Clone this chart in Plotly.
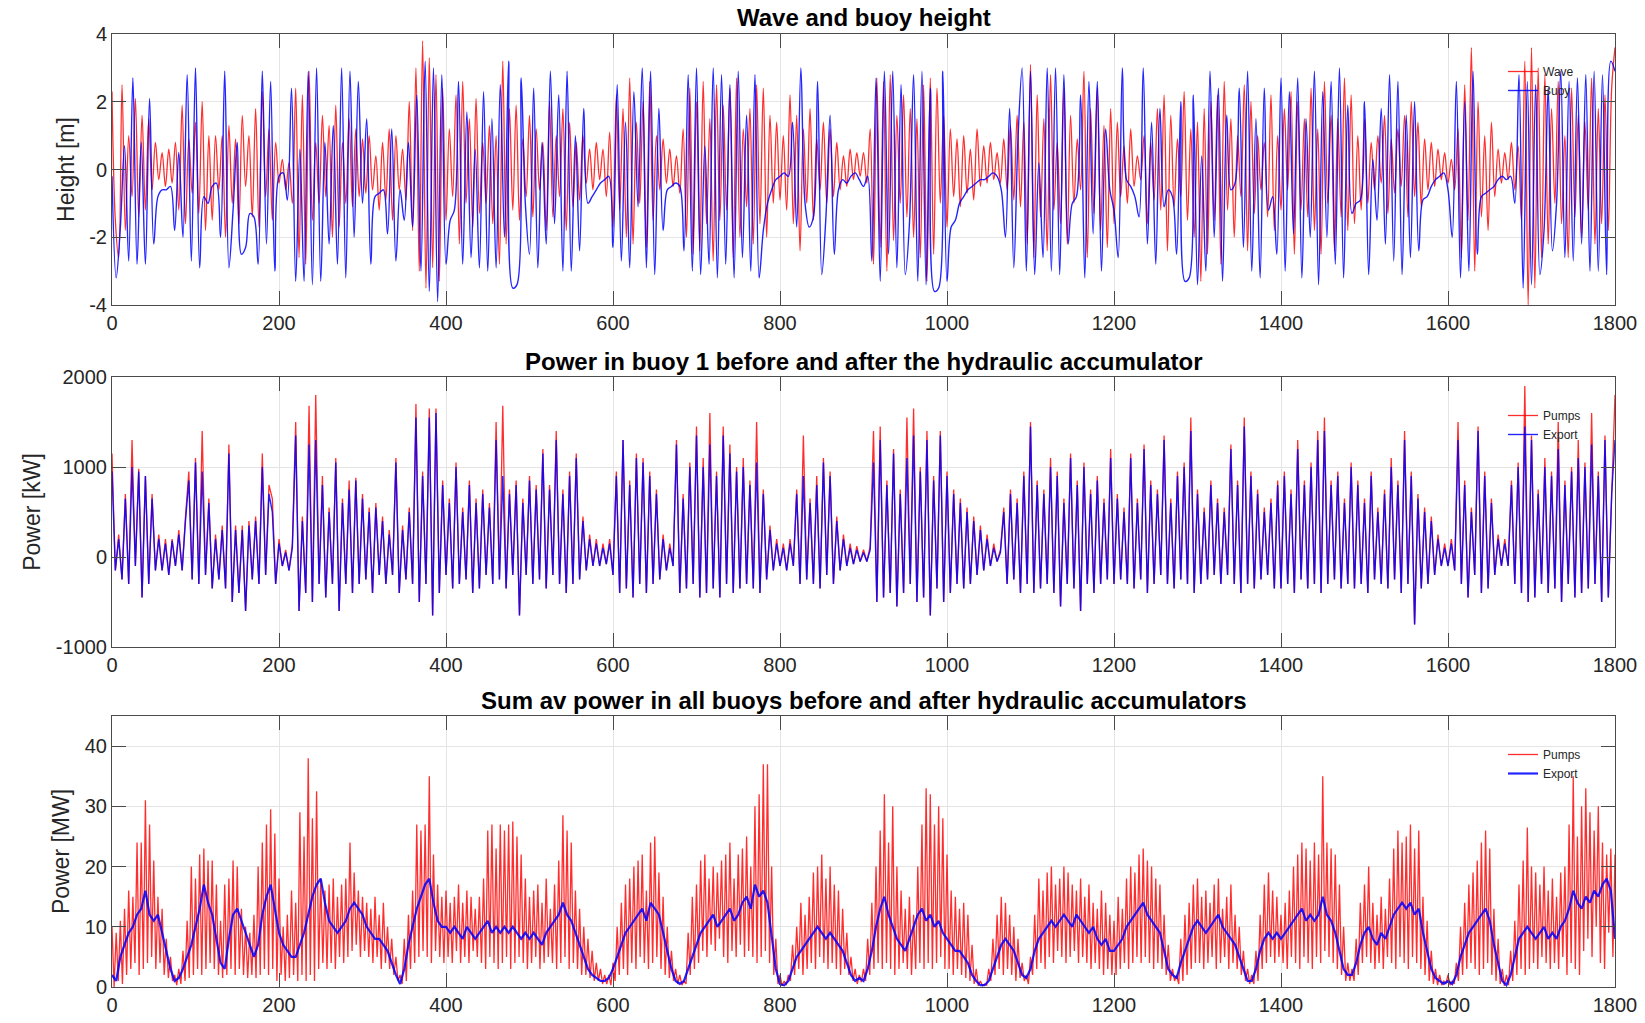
import plotly.graph_objects as go

# ---------------- data ----------------
# Panel 1: wave elevation [m], sampled every 4 s
wave_step = 4
wave_height = [
    2.3, -1.5, -2.6, 2.5, -1.8, 1.0, -0.8, 2.1, -1.4, 1.6, -1.2, 1.5, -0.6, 0.8, -0.3, 0.5, -0.5, 0.6, -0.4, 0.8, -1.2, 1.9, -1.6, 0.9, -0.7,
    1.4, -1.3, 2.0, -1.8, 1.0, -1.5, 1.0, -0.6, 1.0, -2.0, 1.3, -1.0, 0.9, -1.6, 1.6, -0.5, 1.0, -1.4, 1.8, -1.7, 2.3, -0.8, 1.2, -1.5, 0.8,
    -0.4, 0.3, -0.6, 0.2, -1.0, 2.4, -2.6, 2.2, -2.8, 2.9, -1.5, 0.8, -1.0, 1.6, -0.8, 1.3, -2.0, 1.9, -1.7, 0.8, -1.0, 1.5, -1.1, 1.2, -0.8,
    0.9, -0.7, 1.0, -0.6, 0.4, -1.2, 0.8, -0.9, 1.2, -1.5, 1.0, -0.6, 0.6, -0.9, 2.0, -1.8, 3.0, -3.0, 3.8, -3.5, 3.3, -2.9, 2.8, -3.3, 2.4,
    -1.5, 1.2, -0.8, 2.2, -2.2, 2.6, -1.0, 1.5, -1.7, 2.1, -1.3, 0.8, -1.0, 1.3, -1.6, 1.0, -2.8, 3.2, -2.2, 1.8, -1.2, 1.9, -1.5, 0.9, -0.8,
    1.6, -1.4, 1.2, -0.6, 0.8, -1.8, 2.0, -1.4, 1.0, -0.8, 1.8, -1.8, 1.4, -1.1, 0.8, -0.9, 1.0, -0.4, 0.6, -0.6, 0.8, -0.3, 0.6, -0.8, 1.1,
    -1.7, 2.2, -1.2, 1.8, -2.0, 2.7, -2.2, 1.4, -1.0, 2.0, -2.3, 2.6, -1.5, 1.0, -0.6, 0.9, -0.4, 0.6, -0.5, 0.4, -0.7, 1.2, -2.0, 2.4, -2.5,
    2.0, -2.4, 2.6, -1.6, 1.5, -2.7, 2.5, -1.5, 1.9, -1.2, 2.4, -2.6, 2.7, -2.0, 1.2, -1.1, 1.8, -2.2, 2.5, -1.6, 2.4, -2.0, 1.6, -1.0, 1.4,
    -0.9, 1.0, -1.2, 2.2, -1.6, 1.6, -2.4, 1.2, -1.0, 1.8, -1.5, 0.9, -0.6, 1.4, -1.0, 1.2, -0.8, 0.8, -0.6, 0.4, -0.5, 0.6, -0.3, 0.5, -0.2,
    0.5, -0.4, 1.2, -2.8, 2.7, -2.3, 2.6, -3.0, 2.8, -2.1, 1.6, -1.0, 2.2, -1.4, 1.8, -2.0, 1.5, -2.6, 2.5, -3.3, 2.7, -2.5, 2.4, -1.0, 1.6,
    -1.7, 1.2, -0.8, 0.9, -1.1, 1.0, -0.7, 0.6, -0.9, 1.2, -0.5, 0.7, -0.4, 0.8, -0.3, 0.5, -0.4, 0.9, -0.6, 1.3, -0.9, 1.6, -1.1, 1.4, -2.2,
    3.1, -2.6, 2.2, -1.4, 1.5, -2.4, 2.8, -1.2, 0.8, -1.6, 2.4, -2.2, 1.6, -1.0, 0.9, -0.6, 2.9, -2.6, 1.8, -1.3, 2.4, -1.8, 1.3, -2.3, 1.8,
    -1.6, 1.4, -0.8, 0.7, -1.0, 1.2, -0.5, 0.4, -0.3, 1.0, -1.6, 0.8, -0.9, 1.8, -1.2, 2.2, -2.4, 1.6, -1.1, 0.9, -0.8, 2.3, -1.5, 1.2, -2.0,
    1.4, -3.3, 1.8, -2.5, 2.0, -1.5, 2.2, -2.8, 2.6, -1.2, 1.5, -2.0, 1.0, -0.8, 2.5, -2.4, 2.0, -1.3, 1.0, -0.6, 0.8, -1.4, 2.2, -1.8, 1.0,
    -1.2, 1.8, -0.6, 2.3, -2.5, 2.0, -1.2, 1.5, -1.4, 2.4, -1.8, 1.2, -2.5, 2.6, -1.0, 1.6, -2.4, 1.5, -1.4, 2.7, -1.8, 2.2, -1.6, 1.0, -1.2,
    1.5, -1.0, 0.8, -0.6, 1.0, -0.4, 1.6, -1.3, 0.9, -0.7, 1.2, -0.5, 1.6, -1.4, 2.0, -0.8, 1.4, -1.1, 0.9, -0.6, 0.8, -0.5, 0.6, -0.3, 0.5,
    -0.4, 0.3, -0.6, 1.2, -2.6, 2.5, -1.5, 3.6, -3.0, 2.0, -1.4, 1.0, -1.8, 1.4, -0.8, 0.6, -0.4, 0.5, -0.3, 0.8, -0.6, 0.7, -1.5, 3.2, -4.0,
    3.6, -3.5, 3.0, -2.6, 2.8, -2.2, 1.8, -1.0, 2.6, -1.6, 1.0, -2.6, 2.4, -1.4, 1.6, -2.0, 1.4, -1.2, 2.7, -2.2, 1.8, -1.6, 2.2, -1.8, 2.4,
    3.6,
]

# Panel 1: buoy heave [m], sampled every 5 s
buoy_step = 5
buoy_height = [
    -0.2, -3.2, -1.7, 0.7, -2.7, 2.7, -2.8, 0.8, -2.8, 2.1, -2.2, -0.8, -0.6, -0.6, -0.5, -1.8, 0.5, -2.0, 2.8, -2.7,
    3.0, -2.9, -0.8, -1.0, -0.5, -0.4, -2.0, 2.9, -2.9, -1.2, 0.8, -2.5, -2.3, -1.3, -1.4, -2.8, 2.9, -2.2, 2.6, -3.0,
    -0.2, -0.1, -0.9, 2.4, -3.3, 0.6, -3.3, 2.9, -3.4, 3.0, -3.3, 0.8, -2.2, 1.3, -2.8, 3.0, -3.2, 2.9, -2.0, 2.6,
    -1.0, 1.5, -2.8, -0.8, -0.7, -0.6, -1.9, 1.2, -2.7, -0.6, -1.5, 0.8, -1.7, 2.2, -3.0, 3.2, -3.6, 3.0, -3.9, 2.8,
    -2.8, -1.5, -1.2, 2.6, -2.8, 1.7, -2.6, 0.6, -2.9, 2.3, -3.0, 1.5, -2.9, 2.5, -2.0, 3.2, -3.5, -3.4, 2.7, -1.0,
    -2.5, 2.4, -2.9, 0.8, -2.2, 2.9, -1.6, 2.2, -3.0, 2.9, -3.0, 1.0, -2.4, 1.8, -1.0, -0.8, -0.6, -0.4, -0.3, -0.2,
    -2.3, 2.5, -2.7, 1.4, -2.9, 2.3, -1.1, 3.0, -2.9, 2.9, -3.1, 1.8, -1.8, -0.6, -0.5, -0.4, -0.5, -2.4, 2.8, -3.0,
    3.0, -3.1, 0.7, -2.8, 3.0, -3.2, 2.8, -2.8, 2.5, -3.2, 2.9, -2.6, 1.6, -3.0, 2.8, -3.2, -1.8, -1.0, -0.6, -0.3,
    -0.2, -0.1, -0.2, 1.4, -1.7, 3.0, -1.0, -1.7, -1.4, 2.6, -3.1, -1.4, 1.6, -2.5, -0.6, -0.3, -0.4, -0.2, -0.1, -0.3,
    -0.5, -0.2, -2.7, 2.7, -3.3, 2.9, -2.5, 2.9, -2.9, 2.5, -3.1, -1.6, 2.8, -3.3, 2.9, -3.4, 2.4, -3.6, -3.5, 2.9,
    -3.3, -1.7, -1.5, -1.0, -0.8, -0.6, -0.5, -0.4, -0.3, -0.3, -0.2, -0.1, -0.2, -0.6, -2.0, 1.8, -2.9, 0.9, 3.0, -3.0,
    2.9, -3.1, 0.2, -2.6, 3.0, -3.0, 3.0, -3.1, 2.8, -2.2, -1.0, -0.8, 2.2, -3.2, 2.6, -1.9, 2.6, -3.0, 1.2, -0.6,
    -1.2, -2.6, 3.0, -0.3, -0.5, -0.8, -1.4, 3.0, -2.2, 1.4, -2.8, 1.8, -1.1, -0.6, -0.8, -2.5, 2.0, -3.3, -3.2, 2.2,
    -3.4, 0.4, -3.0, 2.9, -2.0, 2.4, -3.3, 1.6, -0.6, -0.4, 2.4, -2.3, 2.9, -3.0, 1.5, -3.2, 2.4, -1.2, -0.8, -2.5,
    2.7, -3.0, 2.3, -1.9, 2.7, -3.2, 1.5, -2.0, 2.9, -3.4, 2.3, -2.0, 2.6, -2.8, 3.0, -3.2, 1.9, -1.3, -1.0, -0.9,
    2.0, -3.1, 0.3, -1.5, 1.8, -2.2, 2.8, -2.7, 2.6, -3.1, 1.6, -2.6, 2.0, -2.4, -0.9, -0.8, -0.5, -0.3, -0.2, -0.1,
    -0.6, -2.0, 2.6, -3.2, 2.0, -3.0, 2.9, -2.5, -0.8, -0.7, -0.6, -0.5, -0.3, -0.2, -0.3, -0.2, -1.0, 2.8, -3.5, 2.6,
    -3.4, 2.5, -3.1, -1.8, 2.4, -2.4, -1.0, 2.9, -2.6, 2.6, -2.7, 2.7, -2.2, 2.8, -3.0, 2.9, -3.0, 2.8, -3.1, 3.2,
    2.9,
]

# Panel 2: buoy 1 power [kW], sampled every 4 s
buoy1_step = 4
buoy1_pumps_kw = [
    1150, -150, 250, -250, 700, -300, 1300, -100, 980, -450, 900, -300, 700, -150, 250, -150, 200, -200, 200, -100, 300, -150, 450, 950, -250,
    1100, -300, 1400, -200, 650, -350, 250, -250, 350, -350, 1250, -500, 350, -400, 350, -600, 400, -250, 450, -300, 1150, -200, 800, 650, -300,
    200, -100, 80, -150, 150, 1500, -600, 450, -400, 1680, -500, 1800, -300, 900, -450, 550, -300, 1100, -600, 650, -300, 850, -400, 880, -300,
    700, -250, 550, -400, 600, -200, 450, -300, 300, -200, 1100, -400, 350, -250, 550, -300, 1700, -500, 950, -300, 1650, -650, 1650, -400, 850,
    -200, 650, -350, 1050, -300, 550, -250, 850, -400, 650, -350, 750, -200, 600, -300, 1500, -250, 1680, -350, 750, -200, 850, -650, 650, -200,
    900, -300, 800, -250, 1200, -350, 800, -200, 1400, -300, 750, -400, 950, -300, 1150, -250, 450, -150, 250, -100, 200, -100, 150, -80, 200,
    -200, 950, -400, 1300, -350, 850, -450, 1150, -300, 1100, -400, 950, -300, 750, -250, 250, -150, 150, -100, 1300, -400, 700, -350, 1050, -300,
    1450, -450, 1100, -400, 1600, -350, 950, -450, 1450, -300, 1250, -400, 1000, -350, 1100, -300, 850, -350, 1500, -400, 750, -250, 350, -150, 200,
    -100, 150, -150, 200, -100, 750, -300, 1350, -250, 650, -300, 900, -350, 1100, -200, 950, -300, 450, -150, 250, -100, 150, -80, 120, -50,
    80, -50, 120, 1400, -500, 1450, -450, 850, -400, 1200, -550, 750, -400, 1550, -300, 1650, -500, 1000, -450, 1400, -650, 900, -350, 1400, -500,
    950, -400, 750, -300, 650, -350, 550, -300, 450, -200, 350, -150, 250, -100, 150, -50, 80, 550, -300, 750, -250, 650, -400, 950, -300,
    1500, -400, 850, -350, 750, -300, 1100, -400, 950, -550, 650, -300, 1150, -350, 850, -600, 1050, -300, 750, -400, 900, -300, 650, -250, 1200,
    -300, 700, -250, 550, -300, 1150, -350, 650, -250, 1250, -400, 850, -300, 750, -200, 1350, -300, 650, -350, 950, -250, 1050, -300, 1550, -400,
    750, -300, 550, -250, 850, -200, 650, -300, 550, -200, 1250, -300, 850, -400, 1550, -300, 950, -350, 750, -250, 550, -200, 650, -350, 850,
    -350, 950, -300, 750, -400, 1300, -250, 850, -350, 1050, -300, 1400, -400, 1550, -300, 850, -250, 950, -350, 650, -300, 1050, -350, 850, -300,
    650, -400, 950, -250, 550, -300, 750, -350, 1100, -250, 850, -400, 1400, -300, 950, -750, 700, -350, 550, -300, 450, -200, 250, -100, 150,
    -100, 200, -150, 1500, -300, 850, -450, 550, -200, 1450, -400, 950, -350, 650, -200, 250, -100, 200, -100, 850, -300, 1050, -400, 1900, -500,
    1350, -450, 750, -300, 1100, -400, 950, -350, 1500, -500, 850, -300, 1000, -450, 1300, -400, 1050, -350, 1600, -300, 950, -500, 1350, -450, 750,
    1800,
]
buoy1_export_kw = [
    950, -150, 200, -250, 650, -300, 1000, -100, 950, -450, 900, -300, 650, -150, 200, -150, 150, -200, 180, -100, 250, -150, 400, 850, -250,
    1050, -300, 950, -200, 600, -350, 200, -250, 300, -350, 1150, -500, 300, -400, 300, -600, 350, -250, 400, -300, 1000, -200, 700, 500, -300,
    150, -100, 50, -150, 100, 1350, -600, 400, -400, 1250, -500, 1300, -300, 800, -450, 500, -300, 1050, -600, 600, -300, 750, -400, 850, -300,
    650, -250, 500, -400, 550, -200, 400, -300, 250, -200, 1050, -400, 300, -250, 500, -300, 1550, -500, 900, -300, 1550, -650, 1600, -400, 800,
    -200, 600, -350, 1000, -300, 500, -250, 800, -400, 600, -350, 700, -200, 550, -300, 1300, -250, 900, -350, 700, -200, 800, -650, 600, -200,
    850, -300, 750, -250, 1150, -350, 750, -200, 1300, -300, 700, -400, 900, -300, 1100, -250, 400, -150, 200, -100, 150, -100, 100, -80, 150,
    -200, 900, -400, 1300, -350, 800, -450, 1100, -300, 1050, -400, 900, -300, 700, -250, 200, -150, 100, -100, 1250, -400, 650, -350, 1000, -300,
    1350, -450, 1000, -400, 1250, -350, 900, -450, 1350, -300, 1150, -400, 950, -350, 1000, -300, 800, -350, 1050, -400, 700, -250, 300, -150, 150,
    -100, 100, -150, 150, -100, 700, -300, 900, -250, 600, -300, 800, -350, 1050, -200, 900, -300, 400, -150, 200, -100, 100, -80, 80, -50,
    50, -50, 80, 1050, -500, 1300, -450, 800, -400, 1150, -550, 700, -400, 1100, -300, 1350, -500, 950, -450, 1300, -650, 850, -350, 1350, -500,
    900, -400, 700, -300, 600, -350, 500, -300, 400, -200, 300, -150, 200, -100, 100, -50, 50, 500, -300, 700, -250, 600, -400, 900, -300,
    1450, -400, 800, -350, 700, -300, 1000, -400, 900, -550, 600, -300, 1100, -350, 800, -600, 1000, -300, 700, -400, 850, -300, 600, -250, 1100,
    -300, 650, -250, 500, -300, 1100, -350, 600, -250, 1200, -400, 800, -300, 700, -200, 1300, -300, 600, -350, 900, -250, 1000, -300, 1400, -400,
    700, -300, 500, -250, 800, -200, 600, -300, 500, -200, 1200, -300, 800, -400, 1450, -300, 900, -350, 700, -250, 500, -200, 600, -350, 800,
    -350, 900, -300, 700, -400, 1200, -250, 800, -350, 1000, -300, 1300, -400, 1400, -300, 800, -250, 900, -350, 600, -300, 1000, -350, 800, -300,
    600, -400, 900, -250, 500, -300, 700, -350, 1000, -250, 800, -400, 1300, -300, 900, -750, 650, -350, 500, -300, 400, -200, 200, -100, 100,
    -100, 150, -150, 1300, -300, 800, -450, 500, -200, 1400, -400, 900, -350, 600, -200, 200, -100, 150, -100, 800, -300, 1000, -400, 1450, -500,
    1300, -450, 700, -300, 1000, -400, 900, -350, 1200, -500, 800, -300, 950, -450, 1100, -400, 1000, -350, 1250, -300, 900, -500, 1300, -450, 700,
    1300,
]

# Panel 3: sum of all buoys [MW]; pumps peaks at t = 0,5,10..., troughs at t = 2.5,7.5,...
sum_step = 5
sum_pumps_peaks_mw = [
    10, 9, 11, 13, 16, 15, 24, 24, 31, 27, 21, 15, 13, 8, 5, 2, 3, 6, 11, 20,
    18, 22, 23, 21, 21, 17, 11, 17, 18, 21, 20, 13, 10, 9, 12, 20, 24, 27, 29.5, 25.5,
    18, 10, 12, 16, 14, 29, 25, 38, 28, 32.5, 18, 16, 17, 18, 15, 17, 18, 24, 19, 16,
    15, 14, 13, 15, 12, 14, 10, 8, 5, 2, 8, 12, 16, 27, 26, 27, 35, 22, 17, 15,
    16, 14, 15, 17, 14, 16, 15, 13, 15, 18, 26, 27, 23, 27, 26, 27, 27.5, 25, 22, 18,
    15, 16, 17, 14, 18, 13, 17, 21, 28.5, 26, 24, 16, 13, 10, 8, 6, 4, 3, 2, 2,
    4, 10, 14, 17, 18, 20, 21, 22, 16, 24, 25, 19, 15, 10, 6, 3, 2, 1, 9, 15,
    17, 21, 22, 18, 20, 19, 21, 22, 24, 18, 22, 23, 25, 20, 30, 32, 37, 37, 20, 8,
    2, 1, 2, 7, 10, 14, 12, 15, 19, 20, 22, 18, 20, 17, 16, 13, 9, 5, 3, 2,
    3, 8, 14, 20, 26, 32, 24, 30, 20, 16, 13, 15, 12, 20, 27, 33, 32, 27, 30, 28,
    22, 16, 15, 13, 14, 12, 7, 3, 1, 0.5, 3, 8, 12, 15, 14, 12, 10, 8, 4, 2,
    5, 12, 18, 16, 19, 20, 17, 18, 20, 19, 17, 16, 18, 15, 17, 14, 13, 16, 14, 12,
    11, 15, 13, 18, 20, 19, 22, 23, 21, 20, 18, 17, 12, 7, 3, 2, 8, 12, 14, 17,
    18, 15, 16, 14, 17, 18, 13, 15, 17, 12, 10, 6, 3, 2, 6, 12, 17, 19, 16, 15,
    12, 14, 16, 20, 22, 24, 23, 21, 24, 22, 35, 24, 23, 22, 17, 10, 4, 3, 8, 14,
    17, 20, 14, 12, 15, 13, 18, 23, 26, 24, 25, 27, 23, 26, 15, 11, 6, 3, 2, 1,
    2, 1, 4, 10, 14, 17, 19, 21, 24, 26, 23, 13, 8, 3, 2, 6, 11, 17, 21, 26.5,
    20, 19, 17, 20, 16, 18, 15, 19, 20, 27, 35, 25, 30, 33, 29, 26, 30, 24, 22, 23,
    22,
]
sum_pumps_troughs_mw = [
    0, 1, 0.5, 2, 3, 4, 2, 3, 4, 5, 3, 4, 2, 1.5, 1, 0.3, 0.5, 1, 1.5, 2,
    3, 2, 3, 4, 3, 2, 1.5, 2, 3, 2, 3, 2, 1.5, 2, 1.5, 2, 3, 2, 3, 1,
    2, 1, 1.5, 2, 1, 2, 1, 2, 1, 3, 4, 3, 4, 3, 5, 4, 5, 6, 7, 5,
    6, 5, 4, 5, 3, 4, 3, 2, 1, 0.5, 1, 3, 4, 5, 6, 5, 4, 6, 5, 4,
    5, 4, 6, 4, 5, 4, 6, 5, 4, 3, 5, 4, 3, 4, 5, 3, 4, 5, 4, 3,
    4, 5, 3, 4, 5, 4, 3, 4, 5, 3, 4, 3, 2, 2, 1.5, 1, 1, 0.5, 0.5, 0.3,
    1, 2, 3, 2, 4, 3, 5, 4, 3, 4, 5, 3, 2, 1.5, 1, 0.5, 0.3, 0.5, 2, 3,
    4, 6, 5, 7, 6, 8, 5, 4, 6, 5, 7, 5, 6, 5, 4, 5, 6, 4, 2, 0.5,
    0.2, 0.3, 1, 2, 3, 2, 3, 4, 3, 5, 4, 3, 4, 3, 2, 3, 2, 1, 0.5, 0.8,
    1, 2, 3, 4, 3, 4, 3, 2, 3, 4, 3, 2, 3, 4, 3, 4, 3, 4, 5, 3,
    3, 2, 3, 2, 1.5, 1, 0.5, 0.2, 0.2, 0.3, 1, 2, 3, 2, 3, 2, 1, 1.5, 1, 0.5,
    2, 3, 4, 3, 5, 4, 6, 5, 4, 5, 6, 4, 5, 4, 3, 4, 3, 2, 3, 2,
    2, 3, 4, 3, 4, 5, 4, 5, 4, 3, 4, 3, 2, 1, 1, 0.5, 1, 2, 3, 4,
    4, 3, 4, 5, 3, 4, 5, 3, 4, 3, 2, 1, 0.5, 0.5, 1, 3, 4, 5, 4, 5,
    4, 3, 5, 4, 3, 5, 4, 3, 5, 4, 6, 5, 4, 3, 2, 1, 1, 1, 2, 4,
    5, 4, 3, 4, 3, 5, 4, 3, 5, 4, 3, 5, 4, 3, 2, 1, 0.5, 0.3, 0.3, 0.5,
    0.3, 0.5, 1, 2, 3, 4, 3, 2, 3, 4, 2, 1, 0.5, 0.2, 0.3, 1, 2, 3, 2, 3,
    4, 3, 5, 4, 3, 4, 3, 5, 2, 4, 3, 2, 6, 8, 5, 10, 4, 3, 9, 5,
]
sum_export_mw = [
    2, 1, 5, 7, 9, 10, 12, 13, 16, 12, 11, 12, 9, 6, 3, 1, 1.5, 3, 5, 7,
    10, 13, 17, 14, 12, 8, 4, 3, 8, 12, 13, 11, 9, 7, 5, 7, 12, 15, 17, 13,
    9, 7, 6, 5, 5, 7, 9, 12, 15, 17, 18, 14, 11, 10, 9, 10, 11, 13, 14, 13,
    12, 10, 9, 8, 8, 7, 6, 4, 2, 0.5, 3, 7, 10, 13, 15, 17, 18, 14, 11, 10,
    10, 9, 10, 9, 8, 10, 9, 8, 9, 10, 11, 9, 10, 9, 10, 9, 10, 9, 8, 9,
    8, 9, 8, 7, 9, 10, 11, 12, 14, 12, 11, 9, 7, 5, 3, 2, 1.5, 1, 1, 1.5,
    3, 5, 7, 9, 10, 11, 12, 13, 11, 14, 13, 12, 9, 6, 3, 1, 0.5, 1, 3, 5,
    7, 9, 10, 11, 12, 10, 11, 12, 13, 11, 12, 14, 15, 13, 17, 15, 16, 14, 8, 3,
    0.5, 0.3, 1, 3, 5, 6, 7, 8, 9, 10, 9, 8, 9, 8, 7, 6, 4, 2, 1, 1.5,
    1, 3, 6, 10, 13, 15, 12, 10, 8, 7, 6, 8, 10, 12, 13, 11, 12, 10, 11, 9,
    8, 7, 6, 6, 5, 4, 2, 1, 0.3, 0.3, 1, 3, 5, 7, 8, 7, 6, 4, 2, 1.5,
    3, 6, 8, 9, 10, 11, 10, 11, 12, 11, 10, 12, 11, 10, 9, 10, 8, 7, 8, 6,
    6, 7, 8, 10, 11, 12, 13, 14, 12, 11, 10, 9, 6, 3, 2, 1.5, 4, 6, 8, 10,
    11, 10, 9, 10, 11, 12, 10, 9, 8, 7, 5, 3, 1, 1, 3, 6, 8, 9, 8, 9,
    8, 9, 10, 11, 12, 13, 11, 12, 11, 12, 15, 12, 11, 9, 6, 3, 2, 2, 4, 7,
    9, 10, 8, 7, 9, 8, 10, 12, 13, 14, 13, 14, 12, 13, 9, 6, 3, 1.5, 1, 0.5,
    1, 0.5, 2, 5, 7, 9, 10, 11, 12, 13, 11, 7, 4, 1, 0.3, 2, 5, 8, 9, 10,
    9, 8, 9, 10, 8, 9, 8, 10, 11, 13, 16, 14, 13, 15, 14, 16, 15, 17, 18, 16,
    8,
]

panel_titles = [
    "Wave and buoy height",
    "Power in buoy 1 before and after the hydraulic accumulator",
    "Sum av power in all buoys before and after hydraulic accumulators",
]
y_titles = ["Height [m]", "Power [kW]", "Power [MW]"]
x_ticks = [0, 200, 400, 600, 800, 1000, 1200, 1400, 1600, 1800]
y_tick_values = [[-4, -2, 0, 2, 4], [-1000, 0, 1000, 2000], [0, 10, 20, 30, 40]]
y_tick_labels = [["-4", "-2", "0", "2", "4"], ["-1000", "0", "1000", "2000"], ["0", "10", "20", "30", "40"]]
y_ranges = [[-4, 4], [-1000, 2000], [0, 45]]

# ---------------- build ----------------
FONT = "Liberation Sans, Arial, Helvetica, sans-serif"
RED = "rgba(255,0,0,0.82)"
BLUE = "rgba(0,0,255,0.86)"
TXT = "#262626"
AX = "#4a4a4a"

def times(values, step, offset=0.0):
    return [offset + i * step for i in range(len(values))]

# interleave pump peaks and troughs in time order
t_pk = times(sum_pumps_peaks_mw, sum_step)
t_tr = times(sum_pumps_troughs_mw, sum_step, sum_step / 2)
pump_pts = sorted(list(zip(t_pk, sum_pumps_peaks_mw)) + list(zip(t_tr, sum_pumps_troughs_mw)))
sum_t = [p[0] for p in pump_pts]
sum_v = [p[1] for p in pump_pts]

fig = go.Figure()
fig.add_trace(go.Scatter(x=times(wave_height, wave_step), y=wave_height, mode="lines", name="Wave",
                         line=dict(color=RED, width=1.3, shape="spline", smoothing=1.0),
                         xaxis="x", yaxis="y", legend="legend"))
fig.add_trace(go.Scatter(x=times(buoy_height, buoy_step), y=buoy_height, mode="lines", name="Buoy",
                         line=dict(color=BLUE, width=1.4, shape="spline", smoothing=1.0),
                         xaxis="x", yaxis="y", legend="legend"))
fig.add_trace(go.Scatter(x=times(buoy1_pumps_kw, buoy1_step), y=buoy1_pumps_kw, mode="lines", name="Pumps",
                         line=dict(color=RED, width=1.3), xaxis="x2", yaxis="y2", legend="legend2"))
fig.add_trace(go.Scatter(x=times(buoy1_export_kw, buoy1_step), y=buoy1_export_kw, mode="lines", name="Export",
                         line=dict(color=BLUE, width=1.4), xaxis="x2", yaxis="y2", legend="legend2"))
fig.add_trace(go.Scatter(x=sum_t, y=sum_v, mode="lines", name="Pumps",
                         line=dict(color=RED, width=1.3), xaxis="x3", yaxis="y3", legend="legend3"))
fig.add_trace(go.Scatter(x=times(sum_export_mw, sum_step), y=sum_export_mw, mode="lines", name="Export",
                         line=dict(color=BLUE, width=2.2), xaxis="x3", yaxis="y3", legend="legend3"))

W, H = 1645, 1023
x_dom = [112 / W, 1615 / W]
panels_px = [(34, 305), (377, 647), (716, 987)]
y_doms = [[1 - b / H, 1 - t / H] for (t, b) in panels_px]

common = dict(showline=True, linecolor=AX, linewidth=1, mirror="ticks", ticks="inside",
              ticklen=14, tickwidth=1, tickcolor=AX, showgrid=True, gridcolor="#e4e4e4",
              gridwidth=1, zeroline=False, automargin=False,
              tickfont=dict(family=FONT, size=20, color=TXT))

layout = dict(width=W, height=H, margin=dict(l=0, r=0, t=0, b=0),
              paper_bgcolor="white", plot_bgcolor="white",
              font=dict(family=FONT, color=TXT), showlegend=True)
for i in range(3):
    sx = "" if i == 0 else str(i + 1)
    layout["xaxis" + sx] = dict(common, domain=x_dom, range=[0, 1800], tickvals=x_ticks,
                                ticktext=[str(v) for v in x_ticks], anchor="y" + sx)
    layout["yaxis" + sx] = dict(common, domain=y_doms[i], range=y_ranges[i],
                                tickvals=y_tick_values[i], ticktext=y_tick_labels[i],
                                anchor="x" + sx,
                                title=dict(text=y_titles[i], standoff=8,
                                           font=dict(family=FONT, size=23, color=TXT)))
fig.update_layout(**layout)

leg_tops = [57, 401, 740]
for i in range(3):
    key = "legend" if i == 0 else "legend" + str(i + 1)
    fig.update_layout(**{key: dict(x=1503 / W, y=1 - leg_tops[i] / H, xanchor="left", yanchor="top",
                                   bgcolor="rgba(0,0,0,0)", borderwidth=0, tracegroupgap=0,
                                   font=dict(family=FONT, size=12, color=TXT))})

title_y_px = [18, 361, 700]
for i in range(3):
    fig.add_annotation(text="<b>" + panel_titles[i] + "</b>", xref="paper", yref="paper",
                       x=(x_dom[0] + x_dom[1]) / 2, y=1 - title_y_px[i] / H,
                       xanchor="center", yanchor="middle", showarrow=False,
                       font=dict(family=FONT, size=24, color="black"))

fig.write_html("out.html", config={"displayModeBar": False},
               post_script="document.body.style.margin='0';document.body.style.overflow='hidden';")
